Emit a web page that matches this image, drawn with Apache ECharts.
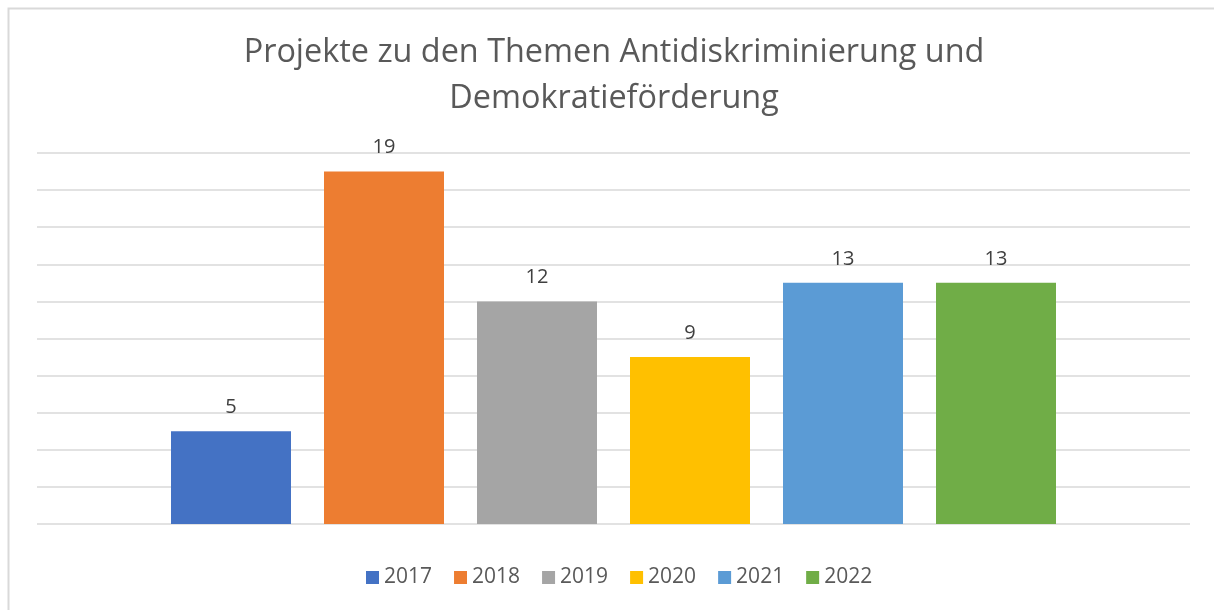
<!DOCTYPE html>
<html>
<head>
<meta charset="utf-8">
<script src="https://cdn.jsdelivr.net/npm/echarts@6/dist/echarts.min.js"></script>
<style>
html,body{margin:0;padding:0;background:#fff;}
#c{width:1214px;height:610px;}
</style>
</head>
<body>
<div id="c"></div>
<script>
const titleText = 'Projekte zu den Themen Antidiskriminierung und\nDemokratieförderung';
const years = ['2017', '2018', '2019', '2020', '2021', '2022'];
const values = [5, 19, 12, 9, 13, 13];
const colors = ['#4472C4', '#ED7D31', '#A5A5A5', '#FFC000', '#5B9BD5', '#70AD47'];
const yMin = 0, yMax = 20, yInterval = 2;

const chart = echarts.init(document.getElementById('c'));
const font = '"Open Sans", "Noto Sans", sans-serif';

chart.setOption({
  animation: false,
  backgroundColor: '#fff',
  graphic: [{
    type: 'rect',
    shape: { x: 8.5, y: 8.5, width: 1400, height: 800 },
    style: { fill: 'none', stroke: '#d9d9d9', lineWidth: 2 },
    silent: true
  }],
  title: {
    text: titleText,
    left: 609,
    top: 25,
    textAlign: 'center',
    textStyle: {
      fontFamily: font,
      fontSize: 32.4,
      fontWeight: 'normal',
      color: '#595959',
      lineHeight: 46,
      align: 'center'
    }
  },
  legend: {
    bottom: 17,
    left: 361,
    icon: 'rect',
    itemWidth: 13,
    itemHeight: 13,
    itemGap: 22,
    textStyle: { fontFamily: font, fontSize: 21, color: '#595959', padding: [0, 0, 0, 0] },
    data: years
  },
  grid: { left: 37, right: 24, top: 153, bottom: 86, containLabel: false },
  xAxis: {
    type: 'category',
    data: [''],
    axisLine: { show: false },
    axisTick: { show: false },
    axisLabel: { show: false }
  },
  yAxis: {
    type: 'value',
    min: yMin, max: yMax, interval: yInterval,
    axisLine: { show: false },
    axisTick: { show: false },
    axisLabel: { show: false },
    splitLine: { lineStyle: { color: '#d9d9d9', width: 1.5 } }
  },
  series: years.map((y, i) => ({
    name: y,
    type: 'bar',
    data: [values[i]],
    barWidth: 120,
    barGap: '27.5%',
    itemStyle: { color: colors[i] },
    label: {
      show: true,
      position: 'top',
      distance: 14,
      fontFamily: font,
      fontSize: 20,
      color: '#404040'
    }
  }))
});
</script>
</body>
</html>
